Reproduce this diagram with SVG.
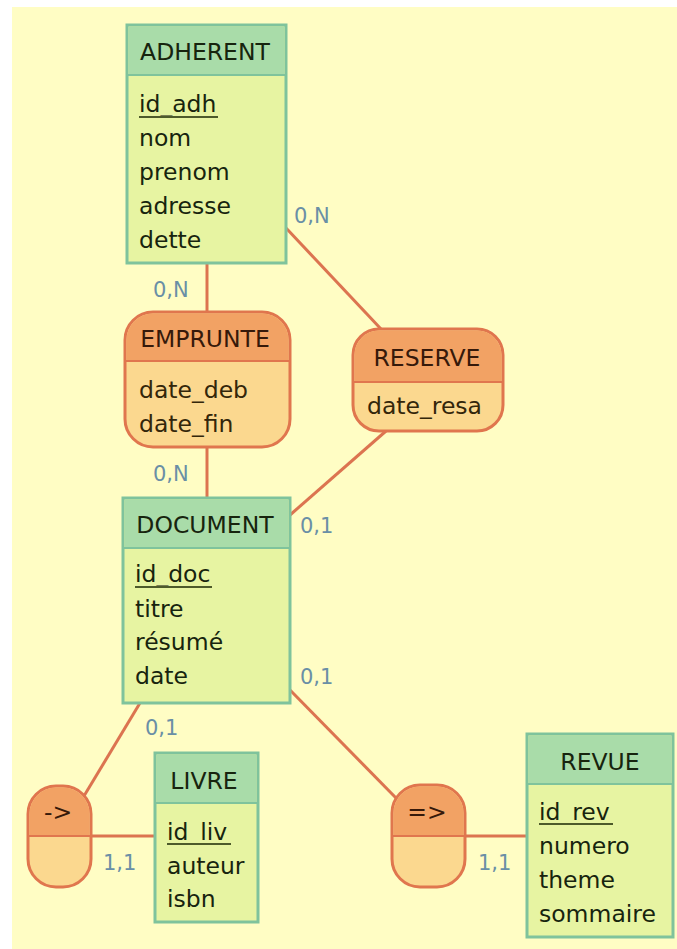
<svg xmlns="http://www.w3.org/2000/svg" width="677" height="949" viewBox="0 0 677 949">
<style>
  .bg { fill: #fffdc4; }
  .ent { fill: #e7f4a2; stroke: #7fc39c; stroke-width: 3; }
  .enth { fill: #a9dca9; }
  .entdiv { stroke: #7fc39c; stroke-width: 2; }
  .asc { fill: #fbd88f; stroke: #e0764e; stroke-width: 3; }
  .asch { fill: #f2a264; }
  .ascdiv { stroke: #e0764e; stroke-width: 2; }
  .title { font-family: "DejaVu Sans", Verdana, sans-serif; font-size: 23.5px; fill: #17240e; text-anchor: middle; }
  .atitle { font-family: "DejaVu Sans", Verdana, sans-serif; font-size: 23.5px; fill: #36190a; text-anchor: middle; }
  .attr { font-family: "DejaVu Sans", Verdana, sans-serif; font-size: 23.5px; fill: #17240e; }
  .aattr { font-family: "DejaVu Sans", Verdana, sans-serif; font-size: 23.5px; fill: #33260a; }
  .ul { stroke: #4d5a2a; stroke-width: 2; }
  .card { font-family: "DejaVu Sans", Verdana, sans-serif; font-size: 21px; fill: #6a8fa6; }
  .link { stroke: #dc7450; stroke-width: 3; fill: none; }
</style>
<rect x="0" y="0" width="677" height="949" fill="#ffffff"/>
<rect class="bg" x="12" y="7" width="665" height="942"/>

<g id="connectors">
  <line class="link" x1="207" y1="263" x2="207" y2="312"/>
  <line class="link" x1="207" y1="447" x2="207" y2="498"/>
  <line class="link" x1="286" y1="228" x2="381" y2="329"/>
  <line class="link" x1="386" y1="431" x2="290" y2="515"/>
  <line class="link" x1="140" y1="703" x2="84" y2="796"/>
  <line class="link" x1="91" y1="836" x2="155" y2="836"/>
  <line class="link" x1="290" y1="690" x2="398" y2="800"/>
  <line class="link" x1="465" y1="836" x2="527" y2="836"/>
  <text class="card" x="153" y="297">0,N</text>
  <text class="card" x="153" y="481">0,N</text>
  <text class="card" x="294" y="223">0,N</text>
  <text class="card" x="300" y="533">0,1</text>
  <text class="card" x="300" y="684">0,1</text>
  <text class="card" x="145" y="735">0,1</text>
  <text class="card" x="103" y="870">1,1</text>
  <text class="card" x="478" y="870">1,1</text>
</g>

<g id="ADHERENT">
  <rect class="ent" x="127" y="25" width="159" height="238"/>
  <rect class="enth" x="128.5" y="26.5" width="156" height="48.5"/>
  <line class="entdiv" x1="127" y1="75" x2="286" y2="75"/>
  <text class="title" x="205" y="60">ADHERENT</text>
  <text class="attr" x="139" y="112">id_adh</text>
  <line class="ul" x1="139" y1="117" x2="218" y2="117"/>
  <text class="attr" x="139" y="146">nom</text>
  <text class="attr" x="139" y="180">prenom</text>
  <text class="attr" x="139" y="214">adresse</text>
  <text class="attr" x="139" y="248">dette</text>
</g>

<g id="EMPRUNTE">
  <rect class="asc" x="125" y="312" width="165" height="135" rx="28" ry="28"/>
  <path class="asch" d="M126.5,361 V340 A26.5,26.5 0 0 1 153,313.5 H262 A26.5,26.5 0 0 1 288.5,340 V361 Z"/>
  <line class="ascdiv" x1="125" y1="361" x2="290" y2="361"/>
  <text class="atitle" x="205" y="347">EMPRUNTE</text>
  <text class="aattr" x="139" y="398">date_deb</text>
  <text class="aattr" x="139" y="432">date_fin</text>
</g>

<g id="RESERVE">
  <rect class="asc" x="353" y="329" width="150" height="102" rx="26" ry="26"/>
  <path class="asch" d="M354.5,382 V355 A24.5,24.5 0 0 1 379,330.5 H477 A24.5,24.5 0 0 1 501.5,355 V382 Z"/>
  <line class="ascdiv" x1="353" y1="382" x2="503" y2="382"/>
  <text class="atitle" x="427" y="366">RESERVE</text>
  <text class="aattr" x="367" y="414">date_resa</text>
</g>

<g id="DOCUMENT">
  <rect class="ent" x="123" y="498" width="167" height="205"/>
  <rect class="enth" x="124.5" y="499.5" width="164" height="48.5"/>
  <line class="entdiv" x1="123" y1="548" x2="290" y2="548"/>
  <text class="title" x="205" y="533">DOCUMENT</text>
  <text class="attr" x="135" y="582">id_doc</text>
  <line class="ul" x1="135" y1="587" x2="212" y2="587"/>
  <text class="attr" x="135" y="617">titre</text>
  <text class="attr" x="135" y="650">résumé</text>
  <text class="attr" x="135" y="684">date</text>
</g>

<g id="HERITAGE_LIVRE">
  <rect class="asc" x="28" y="786" width="63" height="101" rx="28" ry="28"/>
  <path class="asch" d="M29.5,836 V814 A26.5,26.5 0 0 1 56,787.5 H63 A26.5,26.5 0 0 1 89.5,814 V836 Z"/>
  <line class="ascdiv" x1="28" y1="836" x2="91" y2="836"/>
  <text class="atitle" x="58" y="820">-&gt;</text>
</g>

<g id="LIVRE">
  <rect class="ent" x="155" y="753" width="103" height="169"/>
  <rect class="enth" x="156.5" y="754.5" width="100" height="48.5"/>
  <line class="entdiv" x1="155" y1="803" x2="258" y2="803"/>
  <text class="title" x="204" y="789">LIVRE</text>
  <text class="attr" x="167" y="840">id_liv</text>
  <line class="ul" x1="167" y1="844" x2="231" y2="844"/>
  <text class="attr" x="167" y="874">auteur</text>
  <text class="attr" x="167" y="907">isbn</text>
</g>

<g id="HERITAGE_REVUE">
  <rect class="asc" x="392" y="785" width="73" height="102" rx="28" ry="28"/>
  <path class="asch" d="M393.5,836 V813 A26.5,26.5 0 0 1 420,786.5 H437 A26.5,26.5 0 0 1 463.5,813 V836 Z"/>
  <line class="ascdiv" x1="392" y1="836" x2="465" y2="836"/>
  <text class="atitle" x="427" y="820">=&gt;</text>
</g>

<g id="REVUE">
  <rect class="ent" x="527" y="734" width="146" height="203"/>
  <rect class="enth" x="528.5" y="735.5" width="143" height="48.5"/>
  <line class="entdiv" x1="527" y1="784" x2="673" y2="784"/>
  <text class="title" x="600" y="770">REVUE</text>
  <text class="attr" x="539" y="820">id_rev</text>
  <line class="ul" x1="539" y1="824" x2="613" y2="824"/>
  <text class="attr" x="539" y="854">numero</text>
  <text class="attr" x="539" y="888">theme</text>
  <text class="attr" x="539" y="922">sommaire</text>
</g>
</svg>
